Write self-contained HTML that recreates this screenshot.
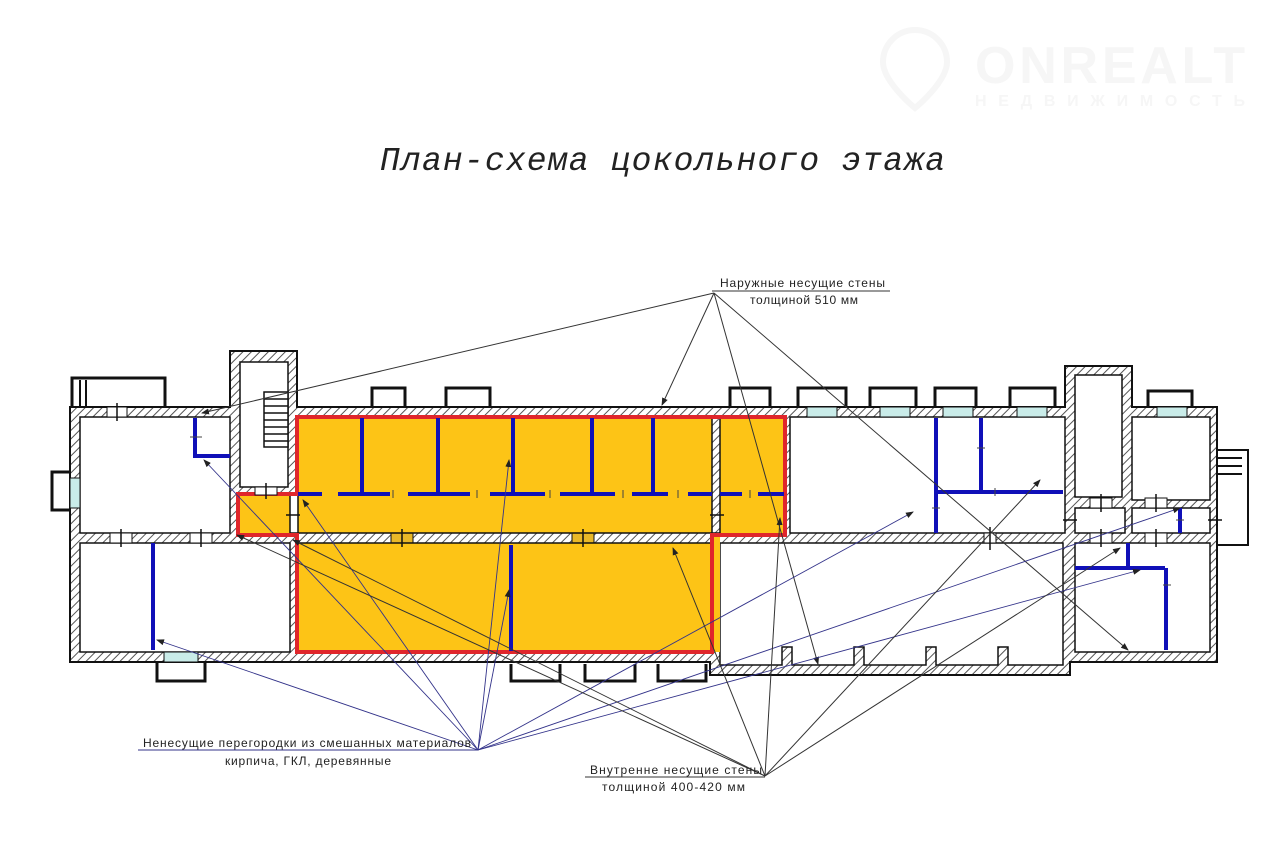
<!DOCTYPE html>
<html><head><meta charset="utf-8">
<style>
html,body{margin:0;padding:0;background:#fff;}
svg{display:block;}
.lbl{font-family:"Liberation Sans Narrow","Liberation Sans","DejaVu Sans Condensed",sans-serif;font-size:12px;fill:#222;}
</style></head>
<body>
<svg width="1280" height="855" viewBox="0 0 1280 855" xmlns="http://www.w3.org/2000/svg">
<defs>
<pattern id="h" width="6" height="6" patternUnits="userSpaceOnUse" patternTransform="rotate(45)">
<rect width="6" height="6" fill="#fff"/>
<line x1="0" y1="0" x2="0" y2="6" stroke="#555" stroke-width="2"/>
</pattern>
<marker id="ar" markerWidth="8" markerHeight="6" refX="7" refY="3" orient="auto" markerUnits="userSpaceOnUse">
<path d="M0,0 L8,3 L0,6 z" fill="#222"/>
</marker>
</defs>

<!-- watermark -->
<g>
<text x="975" y="83" font-family="Liberation Sans" font-weight="bold" font-size="52" fill="#f6f6f6" textLength="270">ONREALT</text>
<text x="975" y="106" font-family="Liberation Sans" font-weight="bold" font-size="16" fill="#f6f6f6" textLength="270">НЕДВИЖИМОСТЬ</text>
<path d="M915,30 a32,32 0 0 1 32,32 c0,20 -32,46 -32,46 c0,0 -32,-26 -32,-46 a32,32 0 0 1 32,-32z" fill="none" stroke="#f6f6f6" stroke-width="6"/>
</g>

<!-- title -->
<text x="380" y="170" font-family="Liberation Mono" font-style="italic" font-size="33" fill="#222" textLength="565">План-схема цокольного этажа</text>

<!-- window boxes (outside) -->
<g fill="#fff" stroke="#111" stroke-width="3">
<path d="M72,407 V378 H165 V407"/>
<path d="M70,472 H52 V510 H70"/>
<path d="M372,407 V388 H405 V407"/>
<path d="M446,407 V388 H490 V407"/>
<path d="M730,407 V388 H770 V407"/>
<path d="M798,407 V388 H846 V407"/>
<path d="M870,407 V388 H916 V407"/>
<path d="M935,407 V388 H976 V407"/>
<path d="M1010,407 V388 H1055 V407"/>
<path d="M1148,407 V391 H1192 V407"/>
<path d="M157,662 V681 H205 V662"/>
<path d="M511,664 V681 H560 V664"/>
<path d="M585,664 V681 H635 V664"/>
<path d="M658,664 V681 H706 V664"/>
</g>
<g stroke="#111" stroke-width="2" fill="none">
<path d="M1217,450 H1248 V545 H1217"/>
<path d="M1217,458 H1242 M1217,466 H1242 M1217,474 H1242"/>
<path d="M80,380 V407 M86,380 V407"/>
</g>

<!-- building shell hatched -->
<path d="M70,407 H230 V351 H297 V407 H1065 V366 H1132 V407 H1217 V662 H1070 V675 H710 V662 H70 Z" fill="url(#h)" stroke="#111" stroke-width="2"/>

<!-- rooms -->
<g stroke="#111" stroke-width="1.5">
<rect x="80" y="417" width="150" height="116" fill="#fff"/>
<rect x="240" y="362" width="48" height="125" fill="#fff"/>
<rect x="80" y="543" width="210" height="109" fill="#fff"/>
<rect x="790" y="417" width="275" height="116" fill="#fff"/>
<path d="M720,543 H1063 V665 H1008 V647 H998 V665 H936 V647 H926 V665 H864 V647 H854 V665 H792 V647 H782 V665 H720 Z" fill="#fff"/>
<rect x="1075" y="375" width="47" height="122" fill="#fff"/>
<rect x="1075" y="508" width="50" height="25" fill="#fff"/>
<rect x="1132" y="417" width="78" height="83" fill="#fff"/>
<rect x="1132" y="508" width="78" height="25" fill="#fff"/>
<rect x="1075" y="543" width="135" height="109" fill="#fff"/>
</g>
<!-- stair -->
<g stroke="#111" stroke-width="1.5" fill="#fff">
<rect x="264" y="392" width="24" height="55"/>
<path d="M264,399 H288 M264,406 H288 M264,413 H288 M264,420 H288 M264,427 H288 M264,434 H288 M264,441 H288"/>
</g>

<!-- yellow area -->
<path d="M297,417 H785 V533 H720 V652 H297 V533 H238 V494 H297 Z" fill="#fdc416"/>
<rect x="297" y="533" width="415" height="10" fill="url(#h)"/>
<rect x="391" y="533" width="22" height="10" fill="#e9b828" stroke="#111"/>
<rect x="572" y="533" width="22" height="10" fill="#e9b828" stroke="#111"/>
<line x1="297" y1="533" x2="712" y2="533" stroke="#111" stroke-width="1.5"/>
<line x1="297" y1="543" x2="712" y2="543" stroke="#111" stroke-width="1.5"/>
<rect x="712" y="418" width="8" height="115" fill="url(#h)" stroke="#111" stroke-width="1.5"/>
<rect x="290" y="494" width="8" height="39" fill="#fff" stroke="#111" stroke-width="1.5"/>
<path d="M297,417 H785 V535 H712 V652 H297 V535 H238 V494 H297 Z" fill="none" stroke="#e0262b" stroke-width="4"/>

<!-- window glass -->
<g fill="#c9ece9" stroke="#111" stroke-width="1">
<rect x="70" y="478" width="10" height="30"/>
<rect x="807" y="407" width="30" height="10"/>
<rect x="880" y="407" width="30" height="10"/>
<rect x="943" y="407" width="30" height="10"/>
<rect x="1017" y="407" width="30" height="10"/>
<rect x="1157" y="407" width="30" height="10"/>
<rect x="164" y="652" width="34" height="10"/>
</g>
<g fill="#fff" stroke="#111" stroke-width="1">
<rect x="107" y="407" width="20" height="10"/>
<rect x="110" y="533" width="22" height="10"/>
<rect x="190" y="533" width="22" height="10"/>
<rect x="984" y="533" width="12" height="10"/>
<rect x="1090" y="533" width="22" height="10"/>
<rect x="1145" y="533" width="22" height="10"/>
<rect x="1090" y="498" width="22" height="10"/>
<rect x="1145" y="498" width="22" height="10"/>
<rect x="255" y="487" width="22" height="8"/>
</g>
<g stroke="#111" stroke-width="1.5">
<path d="M117,403 V421 M121,529 V547 M201,529 V547 M990,527 V550 M1101,494 V512 M1156,494 V512 M1101,529 V547 M1156,529 V547 M266,483 V499 M402,529 V547 M583,529 V547 M286,515 H300 M710,515 H724 M1063,520 H1077 M1208,520 H1222"/>
</g>

<!-- blue partitions -->
<g stroke="#1010b8" stroke-width="4" fill="none">
<path d="M362,418 V494 M438,418 V494 M513,418 V494 M592,418 V494 M653,418 V494"/>
<path d="M298,494 H322 M338,494 H390 M408,494 H470 M490,494 H545 M560,494 H615 M632,494 H668 M688,494 H712 M720,494 H742 M758,494 H784"/>
<path d="M511,545 V651"/>
<path d="M195,418 V456 H230"/>
<path d="M153,543 V650"/>
<path d="M936,418 V533 M936,492 H1063 M981,418 V492"/>
<path d="M1075,568 H1165 M1128,543 V568 M1166,568 V650 M1180,508 V533"/>
</g>
<g stroke="#444" stroke-width="1">
<path d="M190,437 H202 M393,490 V498 M477,490 V498 M550,490 V498 M623,490 V498 M678,490 V498 M750,490 V498 M932,508 H940 M977,448 H985 M995,488 V496 M1163,585 H1171 M1176,520 H1184"/>
</g>

<!-- leader lines: outer walls -->
<g stroke="#333" stroke-width="1" fill="none" marker-end="url(#ar)">
<line x1="714" y1="293" x2="202" y2="413"/>
<line x1="714" y1="293" x2="662" y2="405"/>
<line x1="714" y1="293" x2="818" y2="664"/>
<line x1="714" y1="293" x2="1128" y2="650"/>
</g>
<!-- leader lines: partitions -->
<g stroke="#33338a" stroke-width="0.9" fill="none" marker-end="url(#ar)">
<line x1="478" y1="750" x2="157" y2="640"/>
<line x1="478" y1="750" x2="204" y2="460"/>
<line x1="478" y1="750" x2="303" y2="500"/>
<line x1="478" y1="750" x2="509" y2="590"/>
<line x1="478" y1="750" x2="509" y2="460"/>
<line x1="478" y1="750" x2="913" y2="512"/>
<line x1="478" y1="750" x2="1140" y2="570"/>
<line x1="478" y1="750" x2="1180" y2="508"/>
</g>
<!-- leader lines: internal walls -->
<g stroke="#333" stroke-width="1" fill="none" marker-end="url(#ar)">
<line x1="765" y1="776" x2="673" y2="548"/>
<line x1="765" y1="776" x2="780" y2="518"/>
<line x1="765" y1="776" x2="1040" y2="480"/>
<line x1="765" y1="776" x2="1120" y2="548"/>
<line x1="765" y1="776" x2="237" y2="535"/>
<line x1="765" y1="776" x2="293" y2="540"/>
</g>

<!-- labels -->
<line x1="712" y1="291" x2="890" y2="291" stroke="#333"/>
<text class="lbl" x="720" y="287" textLength="165">Наружные несущие стены</text>
<text class="lbl" x="750" y="304" textLength="108">толщиной 510 мм</text>

<line x1="138" y1="750" x2="478" y2="750" stroke="#33338a"/>
<text class="lbl" x="143" y="747" textLength="328">Ненесущие перегородки из смешанных материалов</text>
<text class="lbl" x="225" y="765" textLength="166">кирпича, ГКЛ, деревянные</text>

<line x1="585" y1="777" x2="765" y2="777" stroke="#333"/>
<text class="lbl" x="590" y="774" textLength="172">Внутренне несущие стены</text>
<text class="lbl" x="602" y="791" textLength="143">толщиной 400-420 мм</text>
</svg>
</body></html>
